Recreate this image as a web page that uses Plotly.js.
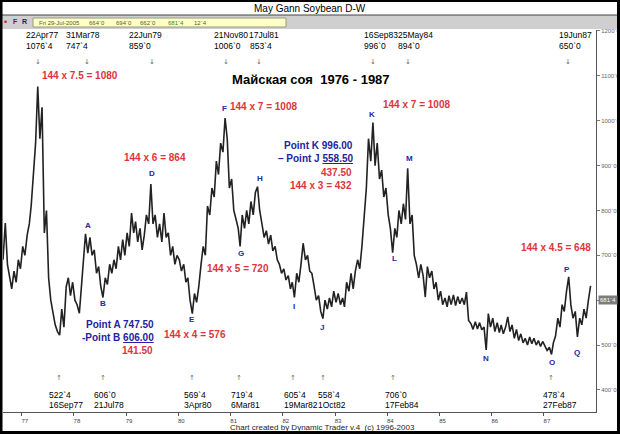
<!DOCTYPE html>
<html><head><meta charset="utf-8">
<script src="https://cdn.plot.ly/plotly-3.0.1.min.js"></script>
<style>html,body{margin:0;padding:0;background:#fff;overflow:hidden}#chart{width:620px;height:434px}</style>
</head><body><div id="chart"></div>
<script>
// May soybean continuation, semi-monthly zigzag readings (cents/bu)
// index 0 = first half of January; 1976 starts at index 15 (second half of August)
const p1976 = [690, 772, 680, 650, 625, 665, 640, 690, 670];
const p1977 = [720, 700, 745, 770, 810, 880, 950, 1076, 960, 1030, 750, 800, 650, 600, 570, 545, 530, 522, 580, 540, 630, 650, 610, 640];
const p1978 = [600, 590, 571, 640, 700, 748, 705, 740, 700, 712, 660, 675, 630, 606, 650, 635, 680, 660, 690, 670, 720, 690, 735, 700];
const p1979 = [750, 720, 794, 750, 775, 730, 760, 712, 745, 790, 770, 859, 770, 790, 740, 770, 730, 794, 740, 750, 700, 720, 680, 700];
const p1980 = [690, 665, 680, 640, 650, 600, 570, 615, 595, 630, 680, 720, 700, 810, 790, 850, 830, 910, 880, 950, 930, 1006, 960, 850];
const p1981 = [870, 800, 780, 760, 720, 790, 760, 800, 770, 820, 790, 840, 853, 800, 770, 740, 755, 725, 745, 710, 720, 690, 680, 660];
const p1982 = [670, 645, 655, 625, 640, 606, 660, 640, 680, 727, 690, 700, 665, 660, 630, 600, 610, 575, 559, 600, 580, 605, 585, 620];
const p1983 = [595, 615, 590, 605, 585, 640, 620, 660, 625, 665, 690, 670, 720, 780, 850, 960, 910, 996, 900, 950, 870, 890, 830, 850];
const p1984 = [790, 760, 706, 760, 740, 800, 770, 815, 780, 894, 770, 790, 700, 680, 650, 680, 655, 607, 675, 650, 665, 625, 640, 600];
const p1985 = [620, 590, 605, 585, 610, 590, 612, 588, 608, 592, 605, 590, 618, 555, 548, 535, 552, 536, 550, 534, 540, 489, 570, 540];
const p1986 = [560, 530, 550, 528, 545, 525, 540, 563, 530, 545, 515, 535, 510, 525, 505, 515, 500, 518, 503, 515, 500, 510, 497, 508];
const p1987 = [498, 488, 495, 479, 505, 520, 560, 540, 590, 575, 620, 652, 590, 560, 575, 518, 560, 545, 580, 560, 600, 632];

const seriesByYear = [[1976, 15, p1976], [1977, 0, p1977], [1978, 0, p1978], [1979, 0, p1979], [1980, 0, p1980], [1981, 0, p1981], [1982, 0, p1982], [1983, 0, p1983], [1984, 0, p1984], [1985, 0, p1985], [1986, 0, p1986], [1987, 0, p1987]];

// pivot labels
const topDates  = ['22Apr77', '31Mar78', '22Jun79', '21Nov80', '17Jul81', '16Sep83', '25May84', '19Jun87'];
const topPrices = ["1076`4", "747`4", "859`0", "1006`0", "853`4", "996`0", "894`0", "650`0"];
const botPrices = ["522`4", "606`0", "569`4", "719`4", "605`4", "558`4", "706`0", "478`4"];
const botDates  = ['16Sep77', '21Jul78', '3Apr80', '6Mar81', '19Mar82', '1Oct82', '17Feb84', '27Feb87'];
const pivotLetters = ['A','B','D','E','F','G','H','I','J','K','L','M','N','O','P','Q'];
const yTickVals = [400, 500, 600, 700, 800, 900, 1000, 1100, 1200];
const yTickText = ["400`0", "500`0", "600`0", "700`0", "800`0", "900`0", "1000`0", "1100`0", "1200`0"];
const redNotes = ['144 x 7.5 = 1080', '144 x 6 = 864', '144 x 7 = 1008', '144 x 7 = 1008', '144 x 5 = 720', '144 x 4 = 576', '144 x 3 = 432', '144 x 4.5 = 648'];

// ---- build trace ----
const pad = n => (n < 10 ? '0' : '') + n;
const xs = [], ys = [];
seriesByYear.forEach(([yr, off, arr]) => {
  arr.forEach((v, k) => {
    const i = off + k;
    const m = Math.floor(i / 2) + 1;
    const d = i % 2 ? 23 : 8;
    xs.push(yr + '-' + pad(m) + '-' + pad(d));
    ys.push(v);
  });
});

// ---- layout helpers (pixel -> paper) ----
const W = 620, H = 434, ML = 3, MR = 24, MT = 30, MB = 22;
const PW = W - ML - MR, PH = H - MT - MB;
const X = px => (px - ML) / PW;
const Y = py => (H - MB - py) / PH;
const FONT = 'Liberation Sans, Arial, sans-serif';
const ann = [];
function txt(text, px, py, opt) {
  opt = opt || {};
  ann.push({text, x: X(px), y: Y(py), xref: 'paper', yref: 'paper', showarrow: false,
    xanchor: opt.xa || 'left', yanchor: 'middle',
    font: {family: opt.family || FONT, size: opt.size || 9, color: opt.color || '#000', weight: opt.weight || 'normal'},
    bgcolor: opt.bg, borderpad: opt.bp || 0});
}

// header
txt('May Gann Soybean D-W', 310, 8, {xa: 'center', size: 10});
txt('•', 5, 22, {xa: 'center', size: 9, color: '#d02020'});
txt('F', 15, 22, {xa: 'center', size: 7, color: '#8a1010', weight: 'bold'});
txt('R', 24, 22, {xa: 'center', size: 7, color: '#1a1a8a', weight: 'bold'});
const hdrVals = ['Fri 29-Jul-2005', "664`0", "694`0", "662`0", "681`4", "12`4"];
const hdrX = [38, 88, 115, 139, 167, 193];
hdrVals.forEach((t, i) => txt(t, hdrX[i], 22.5, {size: 6, color: i === 4 ? '#2a8a2a' : '#5a5a20'}));

// top pivot labels
const topX1 = [25, 65, 128, 213, 248, 363, 397, 558];
const topX2 = [25, 65, 128, 213, 249, 363, 397, 558];
const topArrowX = [38, 87, 152, 226, 259, 373, 408, 568];
topDates.forEach((t, i) => {
  txt(t, topX1[i], 35, {size: 8.5});
  txt(topPrices[i], topX2[i], 45.5, {size: 8.5});
  txt('↓', topArrowX[i], 62, {xa: 'center', size: 7, color: '#666', family: 'DejaVu Sans'});
});
// bottom pivot labels
const botX = [48, 93, 183, 230, 283, 317, 384, 542];
const botArrowX = [59, 103, 192, 239, 293, 323, 393, 551];
botPrices.forEach((t, i) => {
  txt('↑', botArrowX[i], 378, {xa: 'center', size: 7, color: '#666', family: 'DejaVu Sans'});
  txt(t, botX[i], 395, {size: 8.5});
  txt(botDates[i], botX[i], 404.5, {size: 8.5});
});

// pivot letters
const letterPos = [[88,225],[103,303],[152,173],[192,319],[224,108],[241,253],[260,178],[294,306],[322,327],[372,114],[394,258],[409,158],[486,358],[552,362],[567,269],[577,352]];
pivotLetters.forEach((t, i) => txt(t, letterPos[i][0], letterPos[i][1], {xa: 'center', size: 8, color: '#2626a6', weight: 'bold'}));

// red notes
const RED = '#e0343c', BLUE = '#2323a0';
const redPos = [[80,75,'center'],[155,157,'center'],[263,106,'center'],[416,104,'center'],[238,268,'center'],[195,334,'center'],[353,185,'right'],[556,247,'center']];
redNotes.forEach((t, i) => txt(t, redPos[i][0], redPos[i][1], {xa: redPos[i][2], size: 10, color: RED, weight: 'bold'}));
txt('437.50', 353, 172, {xa: 'right', size: 10, color: RED, weight: 'bold'});
txt('141.50', 154, 350, {xa: 'right', size: 10, color: RED, weight: 'bold'});
txt('Point A 747.50', 155, 324, {xa: 'right', size: 10, color: BLUE, weight: 'bold'});
txt('-Point B <u>606.00</u>', 155, 337, {xa: 'right', size: 10, color: BLUE, weight: 'bold'});
txt('Point K 996.00', 354, 145, {xa: 'right', size: 10, color: BLUE, weight: 'bold'});
txt('– Point J <u>558.50</u>', 354, 158, {xa: 'right', size: 10, color: BLUE, weight: 'bold'});

// title
txt('Майская соя  1976 - 1987', 311, 80, {xa: 'center', size: 13, weight: 'bold'});
// footer
txt('Chart created by Dynamic Trader v.4  (c) 1996-2003', 322, 427, {xa: 'center', size: 8, color: '#222'});
// last price box
txt("681`4", 598, 300, {size: 6, color: '#fff', bg: '#7c7c7c', bp: 1});

const shapes = [
  // header bands
  {type: 'rect', xref: 'paper', yref: 'paper', x0: X(0), x1: X(620), y0: Y(15), y1: Y(0), fillcolor: '#ffffff', line: {width: 0}, layer: 'below'},
  {type: 'rect', xref: 'paper', yref: 'paper', x0: X(0), x1: X(620), y0: Y(29), y1: Y(15), fillcolor: '#cfcfcf', line: {width: 0}, layer: 'below'},
  {type: 'line', xref: 'paper', yref: 'paper', x0: X(0), x1: X(620), y0: Y(15), y1: Y(15), line: {color: '#444', width: 1}},
  {type: 'rect', xref: 'paper', yref: 'paper', x0: X(33), x1: X(286), y0: Y(27), y1: Y(18), fillcolor: '#ffffc8', line: {color: '#9a9a80', width: 1}},
  // outer frame
  {type: 'rect', xref: 'paper', yref: 'paper', x0: X(1), x1: X(618.5), y0: Y(432.5), y1: Y(0.5), line: {color: '#000', width: 3}}
];

const data = [{type: 'scatter', mode: 'lines', x: xs, y: ys, line: {color: '#222', width: 1.6}, hoverinfo: 'skip', showlegend: false}];

const layout = {
  width: W, height: H,
  margin: {l: ML, r: MR, t: MT, b: MB, pad: 0},
  paper_bgcolor: '#fff', plot_bgcolor: '#fff',
  showlegend: false,
  xaxis: {type: 'date', range: ['1976-08-23', '1987-12-31'], showgrid: false, zeroline: false,
    showline: true, linecolor: '#555', linewidth: 1, ticks: 'outside', ticklen: 3, tickcolor: '#555',
    tick0: '1977-01-01', dtick: 'M12', tickformat: '%y', ticklabelshift: 3,
    tickfont: {family: FONT, size: 6, color: '#444'}},
  yaxis: {range: [350.8, 1202.2], side: 'right', showgrid: false, zeroline: false,
    showline: true, linecolor: '#555', linewidth: 1, ticks: 'outside', ticklen: 3, tickcolor: '#777',
    tickvals: yTickVals, ticktext: yTickText,
    tickfont: {family: FONT, size: 6, color: '#666'}},
  annotations: ann, shapes: shapes
};
Plotly.newPlot('chart', data, layout, {staticPlot: true, displayModeBar: false});
</script></body></html>
